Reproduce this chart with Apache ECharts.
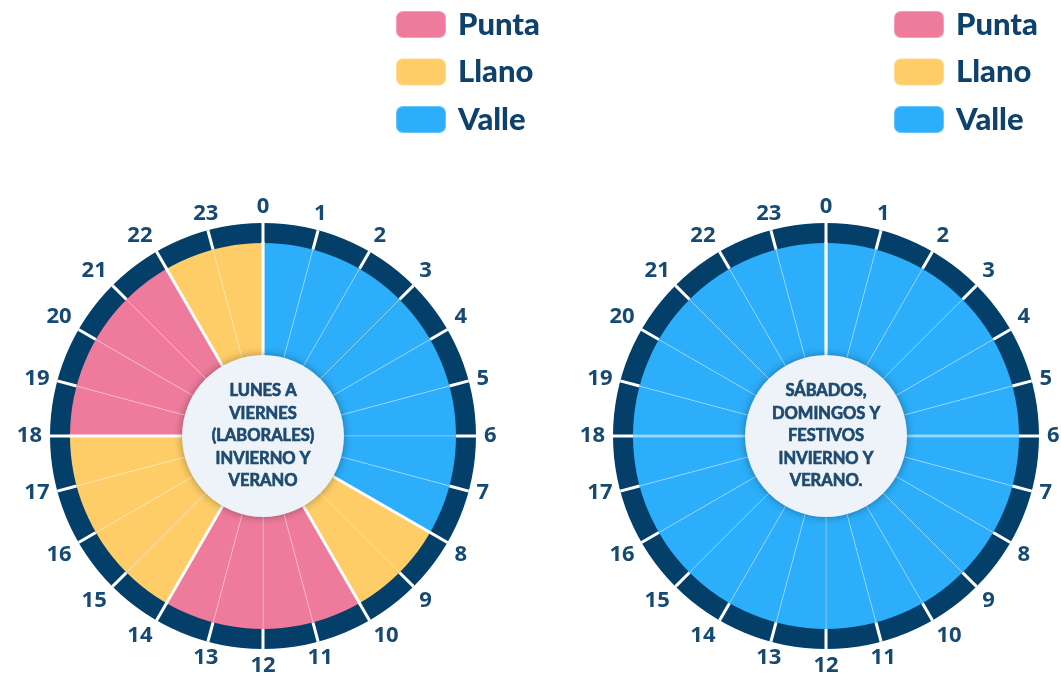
<!DOCTYPE html>
<html>
<head>
<meta charset="utf-8">
<script src="https://cdn.jsdelivr.net/npm/echarts@6/dist/echarts.min.js"></script>
<style>
  html, body { margin: 0; padding: 0; background: #fff; }
  #main { width: 1061px; height: 673px; }
</style>
</head>
<body>
<div id="main"></div>
<script>
// horas del día
var hours = ['0', '1', '2', '3', '4', '5', '6', '7', '8', '9', '10', '11',
  '12', '13', '14', '15', '16', '17', '18', '19', '20', '21', '22', '23'];
// periodo de cada hora, lunes a viernes
var laborables = ['Valle', 'Valle', 'Valle', 'Valle', 'Valle', 'Valle', 'Valle', 'Valle',
  'Llano', 'Llano', 'Punta', 'Punta', 'Punta', 'Punta', 'Llano', 'Llano',
  'Llano', 'Llano', 'Punta', 'Punta', 'Punta', 'Punta', 'Llano', 'Llano'];
// periodo de cada hora, sábados, domingos y festivos
var festivos = ['Valle', 'Valle', 'Valle', 'Valle', 'Valle', 'Valle', 'Valle', 'Valle',
  'Valle', 'Valle', 'Valle', 'Valle', 'Valle', 'Valle', 'Valle', 'Valle',
  'Valle', 'Valle', 'Valle', 'Valle', 'Valle', 'Valle', 'Valle', 'Valle'];
var periodos = ['Punta', 'Llano', 'Valle'];
var colores = { Punta: '#ee7b9b', Llano: '#fecd67', Valle: '#2caefa' };

var navy = '#043f6a';
var txtColor = '#164a72';

// horas donde cambia el periodo
function cambios(p) {
  var r = [];
  for (var i = 0; i < p.length; i++) {
    if (p[i] !== p[(i + p.length - 1) % p.length]) r.push(i);
  }
  if (r.length === 0) r.push(0);
  return r;
}

var charts = [
  { center: [263, 436], periodos: laborables, texto: 'LUNES A\nVIERNES\n(LABORALES)\nINVIERNO Y\nVERANO' },
  { center: [826, 436], periodos: festivos, texto: 'SÁBADOS,\nDOMINGOS Y\nFESTIVOS\nINVIERNO Y\nVERANO.' }
];

var polar = [], angleAxis = [], radiusAxis = [], series = [];

charts.forEach(function (c) {
  var grupos = cambios(c.periodos);
  var claras = [6, 18].filter(function (h) { return grupos.indexOf(h) < 0; });

  // sectores de colores
  series.push({
    type: 'pie',
    silent: true,
    center: c.center,
    radius: [60, 200],
    startAngle: 90,
    label: { show: false },
    labelLine: { show: false },
    data: hours.map(function (h, i) {
      return {
        name: c.periodos[i],
        value: 1,
        itemStyle: { color: colores[c.periodos[i]], borderColor: 'rgba(255,255,255,0.28)', borderWidth: 1 }
      };
    }),
    z: 1
  });
  // anillo azul oscuro
  series.push({
    type: 'pie',
    silent: true,
    center: c.center,
    radius: [193, 213],
    label: { show: false },
    labelLine: { show: false },
    itemStyle: { color: navy, borderWidth: 0 },
    data: [{ name: '', value: 1 }],
    z: 2
  });
  // círculo central
  series.push({
    type: 'pie',
    silent: true,
    center: c.center,
    radius: [0, 81],
    itemStyle: {
      color: '#edf3f9', borderWidth: 0,
      shadowBlur: 8, shadowColor: 'rgba(0,0,0,0.35)'
    },
    label: {
      show: true,
      position: 'center',
      formatter: c.texto,
      color: '#1d4a6e',
      fontFamily: 'Lato',
      fontWeight: 'bold',
      fontSize: 16.5,
      lineHeight: 22.5,
      textBorderColor: '#1d4a6e',
      textBorderWidth: 0.7
    },
    labelLine: { show: false },
    data: [{ name: 'centro', value: 1 }],
    z: 6
  });

  // anillo: separadores y etiquetas de las horas
  var k = polar.length;
  polar.push({ center: c.center, radius: [193, 213] });
  radiusAxis.push({ polarIndex: k, show: false, min: 0, max: 1 });
  angleAxis.push({
    polarIndex: k,
    type: 'value',
    min: 0,
    max: 24,
    interval: 1,
    startAngle: 90,
    clockwise: true,
    z: 5,
    axisLine: { show: false },
    axisTick: { show: false },
    splitLine: { show: true, lineStyle: { color: '#ffffff', width: 3 } },
    axisLabel: {
      margin: 8,
      color: txtColor,
      fontFamily: 'Open Sans',
      fontWeight: 'bold',
      fontSize: 22,
      lineHeight: 17,
      formatter: function (v) { return v >= 24 ? '' : hours[v]; }
    }
  });

  // separadores entre periodos
  [[grupos, '#ffffff'], [claras, 'rgba(255,255,255,0.4)']].forEach(function (g) {
    var idx = g[0];
    var j = polar.length;
    polar.push({ center: c.center, radius: [80, 194] });
    radiusAxis.push({ polarIndex: j, show: false, min: 0, max: 1 });
    angleAxis.push({
      polarIndex: j,
      type: 'category',
      data: hours,
      boundaryGap: true,
      startAngle: 90,
      clockwise: true,
      z: 4,
      axisLine: { show: false },
      axisLabel: { show: false },
      axisTick: { show: false, interval: function (i) { return idx.indexOf(i) >= 0; } },
      splitLine: { show: idx.length > 0, lineStyle: { color: g[1], width: 3 } }
    });
  });
});

var legendBase = {
  orient: 'vertical',
  top: 9,
  padding: 0,
  data: periodos,
  selectedMode: false,
  icon: 'roundRect',
  itemWidth: 50,
  itemHeight: 27,
  itemGap: 16.5,
  textStyle: {
    color: '#0e416b',
    fontFamily: 'Lato',
    fontWeight: 900,
    fontSize: 31,
    lineHeight: 27,
    padding: [0, 0, 0, 7]
  }
};

var myChart = echarts.init(document.getElementById('main'));
myChart.setOption({
  backgroundColor: '#ffffff',
  animation: false,
  legend: [
    Object.assign({}, legendBase, { left: 395 }),
    Object.assign({}, legendBase, { left: 893 })
  ],
  polar: polar,
  angleAxis: angleAxis,
  radiusAxis: radiusAxis,
  series: series
});
</script>
</body>
</html>
